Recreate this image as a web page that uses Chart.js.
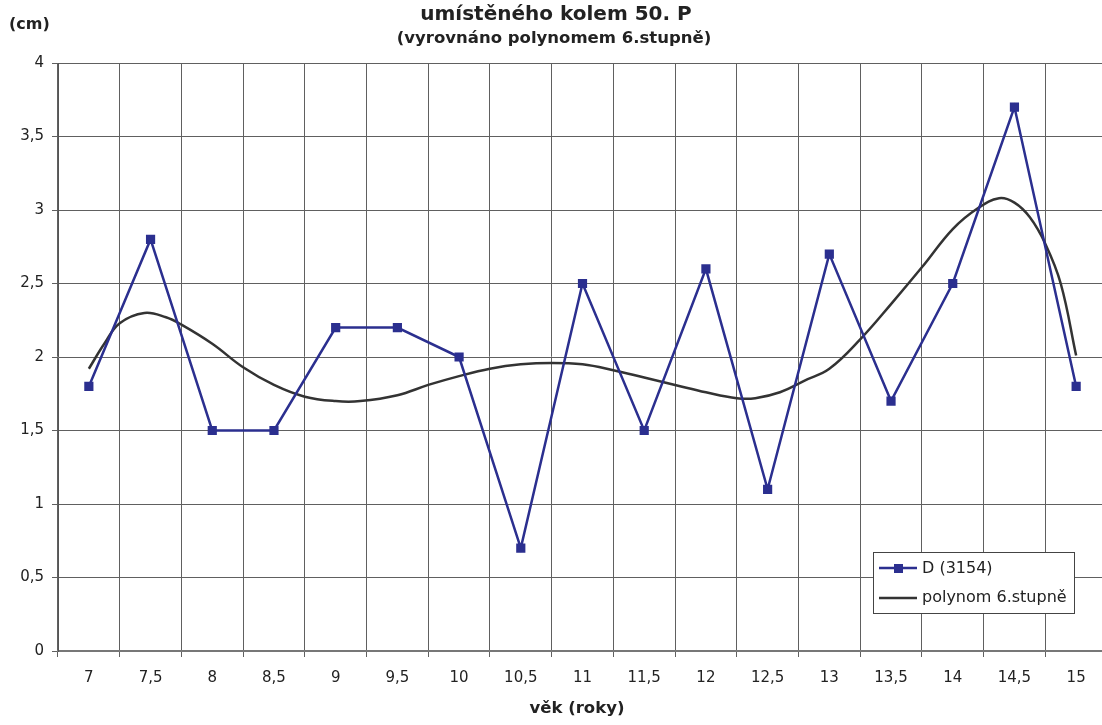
<!DOCTYPE html>
<html>
<head>
<meta charset="utf-8">
<script src="https://cdn.jsdelivr.net/npm/chart.js@4/dist/chart.umd.min.js"></script>
<style>
  html, body { margin: 0; padding: 0; background: #fff; overflow: hidden; }
  #wrap { width: 1120px; height: 725px; }
</style>
</head>
<body>
<div id="wrap"><canvas id="chart" width="1120" height="725"></canvas></div>
<script>
// Age categories (years) and measured values for D (3154)
const ageLabels = ['7', '7,5', '8', '8,5', '9', '9,5', '10', '10,5', '11', '11,5', '12', '12,5', '13', '13,5', '14', '14,5', '15'];
const dValues = [1.8, 2.8, 1.5, 1.5, 2.2, 2.2, 2.0, 0.7, 2.5, 1.5, 2.6, 1.1, 2.7, 1.7, 2.5, 3.7, 1.8];

// 6th degree polynomial trend, sampled along the age axis
const trendAges = [7, 7.125, 7.25, 7.45, 7.625, 7.75, 8, 8.25, 8.5, 8.75, 9, 9.2, 9.5, 9.75, 10, 10.25, 10.5, 10.75,
                   11, 11.25, 11.5, 11.75, 12, 12.25, 12.4, 12.6, 12.8, 13, 13.25, 13.5, 13.75, 14, 14.2, 14.375,
                   14.5, 14.625, 14.75, 14.875, 15];
const trendValues = [1.92, 2.09, 2.23, 2.30, 2.27, 2.22, 2.09, 1.93, 1.81, 1.73, 1.70, 1.70, 1.74, 1.81, 1.87, 1.92, 1.95, 1.96,
                     1.95, 1.91, 1.86, 1.81, 1.76, 1.72, 1.72, 1.76, 1.84, 1.92, 2.12, 2.36, 2.61, 2.87, 3.01, 3.08,
                     3.05, 2.95, 2.77, 2.50, 2.01];

const seriesLabel = 'D (3154)';
const trendLabel = 'polynom 6.stupně';
const titleText = 'umístěného kolem 50. P';
const subtitleText = '(vyrovnáno polynomem 6.stupně)';
const yUnitText = '(cm)';
const xTitleText = 'věk (roky)';

const BLUE = '#2b2f8f';
const DARK = '#333333';
const FONT = '"DejaVu Sans", sans-serif';

// Titles, axis captions and the boxed legend
const decorPlugin = {
    id: 'decor',
    afterDraw(chart) {
        const ctx = chart.ctx;
        ctx.save();
        ctx.fillStyle = '#222';
        ctx.textBaseline = 'middle';
        ctx.textAlign = 'center';
        ctx.font = 'bold 20px ' + FONT;
        ctx.fillText(titleText, 556, 15);
        ctx.font = 'bold 16.5px ' + FONT;
        ctx.fillText(subtitleText, 554, 39);
        ctx.font = 'bold 16.5px ' + FONT;
        ctx.fillText(xTitleText, 577, 709);
        ctx.textAlign = 'left';
        ctx.font = 'bold 16px ' + FONT;
        ctx.fillText(yUnitText, 9, 25);

        // legend box
        const bx = 873, by = 552, bw = 201, bh = 61;
        ctx.fillStyle = '#fff';
        ctx.fillRect(bx, by, bw, bh);
        ctx.strokeStyle = '#444';
        ctx.lineWidth = 1;
        ctx.strokeRect(bx + 0.5, by + 0.5, bw, bh);

        ctx.lineWidth = 2.5;
        ctx.strokeStyle = BLUE;
        ctx.beginPath();
        ctx.moveTo(879, 568);
        ctx.lineTo(917, 568);
        ctx.stroke();
        ctx.fillStyle = BLUE;
        ctx.fillRect(894, 564, 9, 9);

        ctx.strokeStyle = DARK;
        ctx.beginPath();
        ctx.moveTo(879, 598);
        ctx.lineTo(917, 598);
        ctx.stroke();

        ctx.fillStyle = '#222';
        ctx.font = '16px ' + FONT;
        ctx.fillText(seriesLabel, 922, 569);
        ctx.fillText(trendLabel, 922, 598);
        ctx.restore();
    }
};

const ctx = document.getElementById('chart').getContext('2d');
new Chart(ctx, {
    type: 'line',
    data: {
        labels: ageLabels,
        datasets: [{
            label: seriesLabel,
            data: dValues,
            xAxisID: 'x',
            borderColor: BLUE,
            backgroundColor: BLUE,
            borderWidth: 2.5,
            pointStyle: 'rect',
            pointRadius: 6.5,
            pointBorderWidth: 0,
            tension: 0
        }, {
            label: trendLabel,
            data: trendAges.map((a, i) => ({ x: a, y: trendValues[i] })),
            xAxisID: 'x2',
            borderColor: DARK,
            borderWidth: 2.5,
            pointRadius: 0,
            tension: 0.4
        }]
    },
    options: {
        responsive: false,
        animation: false,
        layout: { padding: { top: 63, right: 13, bottom: 0, left: 0 } },
        plugins: {
            legend: { display: false },
            tooltip: { enabled: false }
        },
        scales: {
            x: {
                type: 'category',
                offset: true,
                grid: { offset: true, color: '#606060', lineWidth: 1, tickLength: 6 },
                border: { color: '#777', width: 2 },
                ticks: { color: '#222', font: { family: FONT, size: 15 }, padding: 12, maxRotation: 0, autoSkip: false },
                afterFit(scale) { scale.height = 74; }
            },
            x2: {
                type: 'linear',
                display: false,
                min: 6.75,
                max: 15.25
            },
            y: {
                min: 0,
                max: 4,
                ticks: {
                    stepSize: 0.5,
                    color: '#222',
                    font: { family: FONT, size: 15 },
                    padding: 8,
                    callback: (v) => String(v).replace('.', ',')
                },
                grid: { color: '#606060', lineWidth: 1, tickLength: 6 },
                border: { color: '#555', width: 1 },
                afterFit(scale) { scale.width = 58; }
            }
        }
    },
    plugins: [decorPlugin]
});
</script>
</body>
</html>
